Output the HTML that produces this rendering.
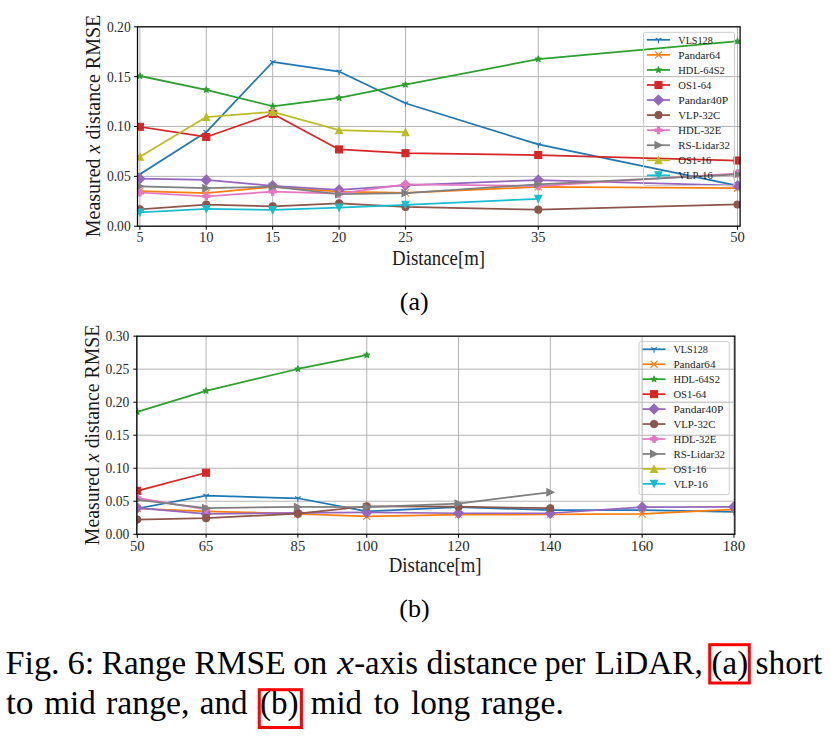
<!DOCTYPE html>
<html><head><meta charset="utf-8"><title>Fig. 6</title>
<style>html,body{margin:0;padding:0;background:#fff;overflow:hidden}svg{display:block}</style>
</head><body>
<svg width="831" height="739" viewBox="0 0 831 739" font-family="'Liberation Serif', 'DejaVu Serif', serif" fill="#000">
<rect width="831" height="739" fill="#fff"/>
<clipPath id="ca"><rect x="137.5" y="26.8" width="602.6" height="199.4"/></clipPath>
<path d="M139.88,26.8V226.2M206.28,26.8V226.2M272.68,26.8V226.2M339.08,26.8V226.2M405.48,26.8V226.2M538.28,26.8V226.2M737.49,26.8V226.2M137.5,226.2H740.1M137.5,176.35H740.1M137.5,126.5H740.1M137.5,76.65H740.1M137.5,26.8H740.1" stroke="#b0b0b0" stroke-width="0.95" fill="none" clip-path="url(#ca)"/>
<g clip-path="url(#ca)">
<polyline points="139.88,174.36 206.28,132.08 272.68,61.99 339.08,71.57 405.48,103.27 538.28,144.45 737.49,185.62" fill="none" stroke="#1f77b4" stroke-width="1.75" stroke-linejoin="round" stroke-linecap="square"/>
<path d="M139.88,174.36l0,3.5M139.88,174.36l2.8,-1.75M139.88,174.36l-2.8,-1.75" stroke="#1f77b4" stroke-width="1.1" fill="none"/>
<path d="M206.28,132.08l0,3.5M206.28,132.08l2.8,-1.75M206.28,132.08l-2.8,-1.75" stroke="#1f77b4" stroke-width="1.1" fill="none"/>
<path d="M272.68,61.99l0,3.5M272.68,61.99l2.8,-1.75M272.68,61.99l-2.8,-1.75" stroke="#1f77b4" stroke-width="1.1" fill="none"/>
<path d="M339.08,71.57l0,3.5M339.08,71.57l2.8,-1.75M339.08,71.57l-2.8,-1.75" stroke="#1f77b4" stroke-width="1.1" fill="none"/>
<path d="M405.48,103.27l0,3.5M405.48,103.27l2.8,-1.75M405.48,103.27l-2.8,-1.75" stroke="#1f77b4" stroke-width="1.1" fill="none"/>
<path d="M538.28,144.45l0,3.5M538.28,144.45l2.8,-1.75M538.28,144.45l-2.8,-1.75" stroke="#1f77b4" stroke-width="1.1" fill="none"/>
<path d="M737.49,185.62l0,3.5M737.49,185.62l2.8,-1.75M737.49,185.62l-2.8,-1.75" stroke="#1f77b4" stroke-width="1.1" fill="none"/>
<polyline points="139.88,191.11 206.28,193.2 272.68,186.82 339.08,191.7 405.48,192.9 538.28,186.92 737.49,188.01" fill="none" stroke="#ff7f0e" stroke-width="1.75" stroke-linejoin="round" stroke-linecap="square"/>
<path d="M136.38,187.61L143.38,194.61M136.38,194.61L143.38,187.61" stroke="#ff7f0e" stroke-width="1.1" fill="none"/>
<path d="M202.78,189.7L209.78,196.7M202.78,196.7L209.78,189.7" stroke="#ff7f0e" stroke-width="1.1" fill="none"/>
<path d="M269.18,183.32L276.18,190.32M269.18,190.32L276.18,183.32" stroke="#ff7f0e" stroke-width="1.1" fill="none"/>
<path d="M335.58,188.2L342.58,195.2M335.58,195.2L342.58,188.2" stroke="#ff7f0e" stroke-width="1.1" fill="none"/>
<path d="M401.98,189.4L408.98,196.4M401.98,196.4L408.98,189.4" stroke="#ff7f0e" stroke-width="1.1" fill="none"/>
<path d="M534.78,183.42L541.78,190.42M534.78,190.42L541.78,183.42" stroke="#ff7f0e" stroke-width="1.1" fill="none"/>
<path d="M733.99,184.51L740.99,191.51M733.99,191.51L740.99,184.51" stroke="#ff7f0e" stroke-width="1.1" fill="none"/>
<polyline points="139.88,75.95 206.28,89.81 272.68,106.26 339.08,97.89 405.48,84.63 538.28,59.1 737.49,41.26" fill="none" stroke="#2ca02c" stroke-width="1.75" stroke-linejoin="round" stroke-linecap="square"/>
<polygon points="139.88,72.8 140.59,74.98 142.87,74.98 141.02,76.32 141.73,78.5 139.88,77.16 138.03,78.5 138.73,76.32 136.88,74.98 139.17,74.98" fill="#2ca02c" stroke="#2ca02c" stroke-width="1.1" stroke-linejoin="round"/>
<polygon points="206.28,86.66 206.99,88.84 209.28,88.84 207.42,90.18 208.13,92.36 206.28,91.01 204.43,92.36 205.14,90.18 203.28,88.84 205.57,88.84" fill="#2ca02c" stroke="#2ca02c" stroke-width="1.1" stroke-linejoin="round"/>
<polygon points="272.68,103.11 273.39,105.29 275.68,105.29 273.83,106.63 274.53,108.81 272.68,107.46 270.83,108.81 271.54,106.63 269.69,105.29 271.97,105.29" fill="#2ca02c" stroke="#2ca02c" stroke-width="1.1" stroke-linejoin="round"/>
<polygon points="339.08,94.74 339.79,96.91 342.08,96.91 340.23,98.26 340.93,100.43 339.08,99.09 337.23,100.43 337.94,98.26 336.09,96.91 338.37,96.91" fill="#2ca02c" stroke="#2ca02c" stroke-width="1.1" stroke-linejoin="round"/>
<polygon points="405.48,81.48 406.19,83.65 408.48,83.65 406.63,85 407.33,87.17 405.48,85.83 403.63,87.17 404.34,85 402.49,83.65 404.78,83.65" fill="#2ca02c" stroke="#2ca02c" stroke-width="1.1" stroke-linejoin="round"/>
<polygon points="538.28,55.95 538.99,58.13 541.28,58.13 539.43,59.47 540.14,61.65 538.28,60.31 536.43,61.65 537.14,59.47 535.29,58.13 537.58,58.13" fill="#2ca02c" stroke="#2ca02c" stroke-width="1.1" stroke-linejoin="round"/>
<polygon points="737.49,38.11 738.2,40.28 740.48,40.28 738.63,41.63 739.34,43.8 737.49,42.46 735.64,43.8 736.34,41.63 734.49,40.28 736.78,40.28" fill="#2ca02c" stroke="#2ca02c" stroke-width="1.1" stroke-linejoin="round"/>
<polyline points="139.88,126.8 206.28,136.97 272.68,113.84 339.08,149.43 405.48,153.22 538.28,155.01 737.49,160.5" fill="none" stroke="#d62728" stroke-width="1.75" stroke-linejoin="round" stroke-linecap="square"/>
<rect x="136.38" y="123.3" width="7" height="7" fill="#d62728" stroke="#d62728" stroke-width="1.1"/>
<rect x="202.78" y="133.47" width="7" height="7" fill="#d62728" stroke="#d62728" stroke-width="1.1"/>
<rect x="269.18" y="110.34" width="7" height="7" fill="#d62728" stroke="#d62728" stroke-width="1.1"/>
<rect x="335.58" y="145.93" width="7" height="7" fill="#d62728" stroke="#d62728" stroke-width="1.1"/>
<rect x="401.98" y="149.72" width="7" height="7" fill="#d62728" stroke="#d62728" stroke-width="1.1"/>
<rect x="534.78" y="151.51" width="7" height="7" fill="#d62728" stroke="#d62728" stroke-width="1.1"/>
<rect x="733.99" y="157" width="7" height="7" fill="#d62728" stroke="#d62728" stroke-width="1.1"/>
<polyline points="139.88,178.64 206.28,179.94 272.68,185.82 339.08,189.91 405.48,185.32 538.28,180.04 737.49,185.62" fill="none" stroke="#9467bd" stroke-width="1.75" stroke-linejoin="round" stroke-linecap="square"/>
<polygon points="139.88,173.69 144.83,178.64 139.88,183.59 134.93,178.64" fill="#9467bd" stroke="#9467bd" stroke-width="1.1"/>
<polygon points="206.28,174.99 211.23,179.94 206.28,184.89 201.33,179.94" fill="#9467bd" stroke="#9467bd" stroke-width="1.1"/>
<polygon points="272.68,180.87 277.63,185.82 272.68,190.77 267.73,185.82" fill="#9467bd" stroke="#9467bd" stroke-width="1.1"/>
<polygon points="339.08,184.96 344.03,189.91 339.08,194.86 334.13,189.91" fill="#9467bd" stroke="#9467bd" stroke-width="1.1"/>
<polygon points="405.48,180.37 410.43,185.32 405.48,190.27 400.53,185.32" fill="#9467bd" stroke="#9467bd" stroke-width="1.1"/>
<polygon points="538.28,175.09 543.23,180.04 538.28,184.99 533.34,180.04" fill="#9467bd" stroke="#9467bd" stroke-width="1.1"/>
<polygon points="737.49,180.67 742.44,185.62 737.49,190.57 732.54,185.62" fill="#9467bd" stroke="#9467bd" stroke-width="1.1"/>
<polyline points="139.88,209.25 206.28,204.57 272.68,206.36 339.08,203.27 405.48,206.96 538.28,209.65 737.49,204.47" fill="none" stroke="#8c564b" stroke-width="1.75" stroke-linejoin="round" stroke-linecap="square"/>
<circle cx="139.88" cy="209.25" r="3.5" fill="#8c564b" stroke="#8c564b" stroke-width="1.1"/>
<circle cx="206.28" cy="204.57" r="3.5" fill="#8c564b" stroke="#8c564b" stroke-width="1.1"/>
<circle cx="272.68" cy="206.36" r="3.5" fill="#8c564b" stroke="#8c564b" stroke-width="1.1"/>
<circle cx="339.08" cy="203.27" r="3.5" fill="#8c564b" stroke="#8c564b" stroke-width="1.1"/>
<circle cx="405.48" cy="206.96" r="3.5" fill="#8c564b" stroke="#8c564b" stroke-width="1.1"/>
<circle cx="538.28" cy="209.65" r="3.5" fill="#8c564b" stroke="#8c564b" stroke-width="1.1"/>
<circle cx="737.49" cy="204.47" r="3.5" fill="#8c564b" stroke="#8c564b" stroke-width="1.1"/>
<polyline points="139.88,192.5 206.28,196.29 272.68,191.7 339.08,193.6 405.48,184.33 538.28,186.12 737.49,173.36" fill="none" stroke="#e377c2" stroke-width="1.75" stroke-linejoin="round" stroke-linecap="square"/>
<polygon points="138.71,189 141.05,189 141.05,191.33 143.38,191.33 143.38,193.67 141.05,193.67 141.05,196 138.71,196 138.71,193.67 136.38,193.67 136.38,191.33 138.71,191.33" fill="#e377c2" stroke="#e377c2" stroke-width="1.1"/>
<polygon points="205.11,192.79 207.45,192.79 207.45,195.12 209.78,195.12 209.78,197.46 207.45,197.46 207.45,199.79 205.11,199.79 205.11,197.46 202.78,197.46 202.78,195.12 205.11,195.12" fill="#e377c2" stroke="#e377c2" stroke-width="1.1"/>
<polygon points="271.51,188.2 273.85,188.2 273.85,190.54 276.18,190.54 276.18,192.87 273.85,192.87 273.85,195.2 271.51,195.2 271.51,192.87 269.18,192.87 269.18,190.54 271.51,190.54" fill="#e377c2" stroke="#e377c2" stroke-width="1.1"/>
<polygon points="337.92,190.1 340.25,190.1 340.25,192.43 342.58,192.43 342.58,194.76 340.25,194.76 340.25,197.1 337.92,197.1 337.92,194.76 335.58,194.76 335.58,192.43 337.92,192.43" fill="#e377c2" stroke="#e377c2" stroke-width="1.1"/>
<polygon points="404.32,180.83 406.65,180.83 406.65,183.16 408.98,183.16 408.98,185.49 406.65,185.49 406.65,187.83 404.32,187.83 404.32,185.49 401.98,185.49 401.98,183.16 404.32,183.16" fill="#e377c2" stroke="#e377c2" stroke-width="1.1"/>
<polygon points="537.12,182.62 539.45,182.62 539.45,184.95 541.78,184.95 541.78,187.29 539.45,187.29 539.45,189.62 537.12,189.62 537.12,187.29 534.78,187.29 534.78,184.95 537.12,184.95" fill="#e377c2" stroke="#e377c2" stroke-width="1.1"/>
<polygon points="736.32,169.86 738.65,169.86 738.65,172.19 740.99,172.19 740.99,174.53 738.65,174.53 738.65,176.86 736.32,176.86 736.32,174.53 733.99,174.53 733.99,172.19 736.32,172.19" fill="#e377c2" stroke="#e377c2" stroke-width="1.1"/>
<polyline points="139.88,186.32 206.28,188.21 272.68,186.62 339.08,194.2 405.48,193.1 538.28,184.33 737.49,174.36" fill="none" stroke="#7f7f7f" stroke-width="1.75" stroke-linejoin="round" stroke-linecap="square"/>
<polygon points="143.38,186.32 136.38,182.82 136.38,189.82" fill="#7f7f7f" stroke="#7f7f7f" stroke-width="1.1"/>
<polygon points="209.78,188.21 202.78,184.71 202.78,191.71" fill="#7f7f7f" stroke="#7f7f7f" stroke-width="1.1"/>
<polygon points="276.18,186.62 269.18,183.12 269.18,190.12" fill="#7f7f7f" stroke="#7f7f7f" stroke-width="1.1"/>
<polygon points="342.58,194.2 335.58,190.7 335.58,197.7" fill="#7f7f7f" stroke="#7f7f7f" stroke-width="1.1"/>
<polygon points="408.98,193.1 401.98,189.6 401.98,196.6" fill="#7f7f7f" stroke="#7f7f7f" stroke-width="1.1"/>
<polygon points="541.78,184.33 534.78,180.83 534.78,187.83" fill="#7f7f7f" stroke="#7f7f7f" stroke-width="1.1"/>
<polygon points="740.99,174.36 733.99,170.86 733.99,177.86" fill="#7f7f7f" stroke="#7f7f7f" stroke-width="1.1"/>
<polyline points="139.88,156.81 206.28,117.03 272.68,111.84 339.08,130.19 405.48,132.08" fill="none" stroke="#bcbd22" stroke-width="1.75" stroke-linejoin="round" stroke-linecap="square"/>
<polygon points="139.88,153.31 136.38,160.31 143.38,160.31" fill="#bcbd22" stroke="#bcbd22" stroke-width="1.1"/>
<polygon points="206.28,113.53 202.78,120.53 209.78,120.53" fill="#bcbd22" stroke="#bcbd22" stroke-width="1.1"/>
<polygon points="272.68,108.34 269.18,115.34 276.18,115.34" fill="#bcbd22" stroke="#bcbd22" stroke-width="1.1"/>
<polygon points="339.08,126.69 335.58,133.69 342.58,133.69" fill="#bcbd22" stroke="#bcbd22" stroke-width="1.1"/>
<polygon points="405.48,128.58 401.98,135.58 408.98,135.58" fill="#bcbd22" stroke="#bcbd22" stroke-width="1.1"/>
<polyline points="139.88,212.44 206.28,208.95 272.68,209.95 339.08,207.56 405.48,204.76 538.28,198.88" fill="none" stroke="#17becf" stroke-width="1.75" stroke-linejoin="round" stroke-linecap="square"/>
<polygon points="139.88,215.94 136.38,208.94 143.38,208.94" fill="#17becf" stroke="#17becf" stroke-width="1.1"/>
<polygon points="206.28,212.45 202.78,205.45 209.78,205.45" fill="#17becf" stroke="#17becf" stroke-width="1.1"/>
<polygon points="272.68,213.45 269.18,206.45 276.18,206.45" fill="#17becf" stroke="#17becf" stroke-width="1.1"/>
<polygon points="339.08,211.06 335.58,204.06 342.58,204.06" fill="#17becf" stroke="#17becf" stroke-width="1.1"/>
<polygon points="405.48,208.26 401.98,201.26 408.98,201.26" fill="#17becf" stroke="#17becf" stroke-width="1.1"/>
<polygon points="538.28,202.38 534.78,195.38 541.78,195.38" fill="#17becf" stroke="#17becf" stroke-width="1.1"/>
</g>
<rect x="643.5" y="32.3" width="91" height="153.2" rx="2" fill="none" stroke="#cccccc" stroke-width="1"/>
<path d="M646.9,39.8H670.1" stroke="#1f77b4" stroke-width="1.75"/>
<path d="M658.5,39.8l0,3.5M658.5,39.8l2.8,-1.75M658.5,39.8l-2.8,-1.75" stroke="#1f77b4" stroke-width="1.1" fill="none"/>
<text x="678.3" y="43.6" font-size="11" fill="#222" textLength="34.5" lengthAdjust="spacingAndGlyphs">VLS128</text>
<path d="M646.9,54.86H670.1" stroke="#ff7f0e" stroke-width="1.75"/>
<path d="M655,51.36L662,58.36M655,58.36L662,51.36" stroke="#ff7f0e" stroke-width="1.1" fill="none"/>
<text x="678.3" y="58.66" font-size="11" fill="#222" textLength="42.1" lengthAdjust="spacingAndGlyphs">Pandar64</text>
<path d="M646.9,69.92H670.1" stroke="#2ca02c" stroke-width="1.75"/>
<polygon points="658.5,66.77 659.21,68.95 661.5,68.95 659.64,70.29 660.35,72.47 658.5,71.12 656.65,72.47 657.36,70.29 655.5,68.95 657.79,68.95" fill="#2ca02c" stroke="#2ca02c" stroke-width="1.1" stroke-linejoin="round"/>
<text x="678.3" y="73.72" font-size="11" fill="#222" textLength="46.5" lengthAdjust="spacingAndGlyphs">HDL-64S2</text>
<path d="M646.9,84.98H670.1" stroke="#d62728" stroke-width="1.75"/>
<rect x="655" y="81.48" width="7" height="7" fill="#d62728" stroke="#d62728" stroke-width="1.1"/>
<text x="678.3" y="88.78" font-size="11" fill="#222" textLength="33" lengthAdjust="spacingAndGlyphs">OS1-64</text>
<path d="M646.9,100.04H670.1" stroke="#9467bd" stroke-width="1.75"/>
<polygon points="658.5,95.09 663.45,100.04 658.5,104.99 653.55,100.04" fill="#9467bd" stroke="#9467bd" stroke-width="1.1"/>
<text x="678.3" y="103.84" font-size="11" fill="#222" textLength="50" lengthAdjust="spacingAndGlyphs">Pandar40P</text>
<path d="M646.9,115.1H670.1" stroke="#8c564b" stroke-width="1.75"/>
<circle cx="658.5" cy="115.1" r="3.5" fill="#8c564b" stroke="#8c564b" stroke-width="1.1"/>
<text x="678.3" y="118.9" font-size="11" fill="#222" textLength="42" lengthAdjust="spacingAndGlyphs">VLP-32C</text>
<path d="M646.9,130.16H670.1" stroke="#e377c2" stroke-width="1.75"/>
<polygon points="657.33,126.66 659.67,126.66 659.67,128.99 662,128.99 662,131.33 659.67,131.33 659.67,133.66 657.33,133.66 657.33,131.33 655,131.33 655,128.99 657.33,128.99" fill="#e377c2" stroke="#e377c2" stroke-width="1.1"/>
<text x="678.3" y="133.96" font-size="11" fill="#222" textLength="43" lengthAdjust="spacingAndGlyphs">HDL-32E</text>
<path d="M646.9,145.22H670.1" stroke="#7f7f7f" stroke-width="1.75"/>
<polygon points="662,145.22 655,141.72 655,148.72" fill="#7f7f7f" stroke="#7f7f7f" stroke-width="1.1"/>
<text x="678.3" y="149.02" font-size="11" fill="#222" textLength="51.7" lengthAdjust="spacingAndGlyphs">RS-Lidar32</text>
<path d="M646.9,160.28H670.1" stroke="#bcbd22" stroke-width="1.75"/>
<polygon points="658.5,156.78 655,163.78 662,163.78" fill="#bcbd22" stroke="#bcbd22" stroke-width="1.1"/>
<text x="678.3" y="164.08" font-size="11" fill="#222" textLength="33" lengthAdjust="spacingAndGlyphs">OS1-16</text>
<path d="M646.9,175.34H670.1" stroke="#17becf" stroke-width="1.75"/>
<polygon points="658.5,178.84 655,171.84 662,171.84" fill="#17becf" stroke="#17becf" stroke-width="1.1"/>
<text x="678.3" y="179.14" font-size="11" fill="#222" textLength="34.5" lengthAdjust="spacingAndGlyphs">VLP-16</text>
<rect x="137.5" y="26.8" width="602.6" height="199.4" fill="none" stroke="#000" stroke-width="1.25" stroke-linejoin="miter"/>
<path d="M139.88,226.2v3.5M206.28,226.2v3.5M272.68,226.2v3.5M339.08,226.2v3.5M405.48,226.2v3.5M538.28,226.2v3.5M737.49,226.2v3.5M137.5,226.2h-3.5M137.5,176.35h-3.5M137.5,126.5h-3.5M137.5,76.65h-3.5M137.5,26.8h-3.5" stroke="#000" stroke-width="1"/>
<text x="139.88" y="242" font-size="14" text-anchor="middle" fill="#2a2a2a">5</text>
<text x="206.28" y="242" font-size="14" text-anchor="middle" fill="#2a2a2a" textLength="14.6" lengthAdjust="spacingAndGlyphs">10</text>
<text x="272.68" y="242" font-size="14" text-anchor="middle" fill="#2a2a2a" textLength="14.6" lengthAdjust="spacingAndGlyphs">15</text>
<text x="339.08" y="242" font-size="14" text-anchor="middle" fill="#2a2a2a" textLength="14.6" lengthAdjust="spacingAndGlyphs">20</text>
<text x="405.48" y="242" font-size="14" text-anchor="middle" fill="#2a2a2a" textLength="14.6" lengthAdjust="spacingAndGlyphs">25</text>
<text x="538.28" y="242" font-size="14" text-anchor="middle" fill="#2a2a2a" textLength="14.6" lengthAdjust="spacingAndGlyphs">35</text>
<text x="737.49" y="242" font-size="14" text-anchor="middle" fill="#2a2a2a" textLength="14.6" lengthAdjust="spacingAndGlyphs">50</text>
<text x="130.7" y="231.1" font-size="14" text-anchor="end" fill="#2a2a2a" textLength="23.8" lengthAdjust="spacingAndGlyphs">0.00</text>
<text x="130.7" y="181.25" font-size="14" text-anchor="end" fill="#2a2a2a" textLength="23.8" lengthAdjust="spacingAndGlyphs">0.05</text>
<text x="130.7" y="131.4" font-size="14" text-anchor="end" fill="#2a2a2a" textLength="23.8" lengthAdjust="spacingAndGlyphs">0.10</text>
<text x="130.7" y="81.55" font-size="14" text-anchor="end" fill="#2a2a2a" textLength="23.8" lengthAdjust="spacingAndGlyphs">0.15</text>
<text x="130.7" y="31.7" font-size="14" text-anchor="end" fill="#2a2a2a" textLength="23.8" lengthAdjust="spacingAndGlyphs">0.20</text>
<text x="438.6" y="265" font-size="20" text-anchor="middle" fill="#1a1a1a" textLength="93" lengthAdjust="spacingAndGlyphs">Distance[m]</text>
<text transform="translate(100,126) rotate(-90)" font-size="20" text-anchor="middle" fill="#1a1a1a" textLength="222.5" lengthAdjust="spacingAndGlyphs">Measured <tspan font-style="italic">x</tspan> distance RMSE</text>
<clipPath id="cb"><rect x="136.8" y="336.15" width="598.05" height="198.1"/></clipPath>
<path d="M137.24,336.15V534.25M206.09,336.15V534.25M297.89,336.15V534.25M366.74,336.15V534.25M458.54,336.15V534.25M550.34,336.15V534.25M642.14,336.15V534.25M733.94,336.15V534.25M136.8,534.25H734.85M136.8,501.24H734.85M136.8,468.22H734.85M136.8,435.21H734.85M136.8,402.19H734.85M136.8,369.18H734.85M136.8,336.16H734.85" stroke="#b0b0b0" stroke-width="0.95" fill="none" clip-path="url(#cb)"/>
<g clip-path="url(#cb)">
<polyline points="137.24,508.5 206.09,495.69 297.89,498.26 366.74,511.34 458.54,507.18 550.34,510.02 642.14,510.02 733.94,511.93" fill="none" stroke="#1f77b4" stroke-width="1.75" stroke-linejoin="round" stroke-linecap="square"/>
<path d="M137.24,508.5l0,3.5M137.24,508.5l2.8,-1.75M137.24,508.5l-2.8,-1.75" stroke="#1f77b4" stroke-width="1.1" fill="none"/>
<path d="M206.09,495.69l0,3.5M206.09,495.69l2.8,-1.75M206.09,495.69l-2.8,-1.75" stroke="#1f77b4" stroke-width="1.1" fill="none"/>
<path d="M297.89,498.26l0,3.5M297.89,498.26l2.8,-1.75M297.89,498.26l-2.8,-1.75" stroke="#1f77b4" stroke-width="1.1" fill="none"/>
<path d="M366.74,511.34l0,3.5M366.74,511.34l2.8,-1.75M366.74,511.34l-2.8,-1.75" stroke="#1f77b4" stroke-width="1.1" fill="none"/>
<path d="M458.54,507.18l0,3.5M458.54,507.18l2.8,-1.75M458.54,507.18l-2.8,-1.75" stroke="#1f77b4" stroke-width="1.1" fill="none"/>
<path d="M550.34,510.02l0,3.5M550.34,510.02l2.8,-1.75M550.34,510.02l-2.8,-1.75" stroke="#1f77b4" stroke-width="1.1" fill="none"/>
<path d="M642.14,510.02l0,3.5M642.14,510.02l2.8,-1.75M642.14,510.02l-2.8,-1.75" stroke="#1f77b4" stroke-width="1.1" fill="none"/>
<path d="M733.94,511.93l0,3.5M733.94,511.93l2.8,-1.75M733.94,511.93l-2.8,-1.75" stroke="#1f77b4" stroke-width="1.1" fill="none"/>
<polyline points="137.24,508.5 206.09,511.47 297.89,513.78 366.74,516.36 458.54,514.71 550.34,514.37 642.14,513.78 733.94,509.42" fill="none" stroke="#ff7f0e" stroke-width="1.75" stroke-linejoin="round" stroke-linecap="square"/>
<path d="M133.74,505L140.74,512M133.74,512L140.74,505" stroke="#ff7f0e" stroke-width="1.1" fill="none"/>
<path d="M202.59,507.97L209.59,514.97M202.59,514.97L209.59,507.97" stroke="#ff7f0e" stroke-width="1.1" fill="none"/>
<path d="M294.39,510.28L301.39,517.28M294.39,517.28L301.39,510.28" stroke="#ff7f0e" stroke-width="1.1" fill="none"/>
<path d="M363.24,512.86L370.24,519.86M363.24,519.86L370.24,512.86" stroke="#ff7f0e" stroke-width="1.1" fill="none"/>
<path d="M455.04,511.21L462.04,518.21M455.04,518.21L462.04,511.21" stroke="#ff7f0e" stroke-width="1.1" fill="none"/>
<path d="M546.84,510.87L553.84,517.87M546.84,517.87L553.84,510.87" stroke="#ff7f0e" stroke-width="1.1" fill="none"/>
<path d="M638.64,510.28L645.64,517.28M638.64,517.28L645.64,510.28" stroke="#ff7f0e" stroke-width="1.1" fill="none"/>
<path d="M730.44,505.92L737.44,512.92M730.44,512.92L737.44,505.92" stroke="#ff7f0e" stroke-width="1.1" fill="none"/>
<polyline points="137.24,411.96 206.09,390.83 297.89,368.98 366.74,355.11" fill="none" stroke="#2ca02c" stroke-width="1.75" stroke-linejoin="round" stroke-linecap="square"/>
<polygon points="137.24,408.81 137.95,410.99 140.24,410.99 138.39,412.33 139.09,414.51 137.24,413.17 135.39,414.51 136.1,412.33 134.25,410.99 136.54,410.99" fill="#2ca02c" stroke="#2ca02c" stroke-width="1.1" stroke-linejoin="round"/>
<polygon points="206.09,387.68 206.8,389.86 209.09,389.86 207.24,391.2 207.94,393.38 206.09,392.04 204.24,393.38 204.95,391.2 203.1,389.86 205.39,389.86" fill="#2ca02c" stroke="#2ca02c" stroke-width="1.1" stroke-linejoin="round"/>
<polygon points="297.89,365.83 298.6,368 300.89,368 299.04,369.35 299.74,371.53 297.89,370.18 296.04,371.53 296.75,369.35 294.9,368 297.18,368" fill="#2ca02c" stroke="#2ca02c" stroke-width="1.1" stroke-linejoin="round"/>
<polygon points="366.74,351.96 367.45,354.14 369.74,354.14 367.89,355.48 368.59,357.66 366.74,356.31 364.89,357.66 365.6,355.48 363.75,354.14 366.03,354.14" fill="#2ca02c" stroke="#2ca02c" stroke-width="1.1" stroke-linejoin="round"/>
<polyline points="137.24,490.87 206.09,472.71" fill="none" stroke="#d62728" stroke-width="1.75" stroke-linejoin="round" stroke-linecap="square"/>
<rect x="133.74" y="487.37" width="7" height="7" fill="#d62728" stroke="#d62728" stroke-width="1.1"/>
<rect x="202.59" y="469.21" width="7" height="7" fill="#d62728" stroke="#d62728" stroke-width="1.1"/>
<polyline points="137.24,507.9 206.09,513.78 297.89,512.99 366.74,512.46 458.54,513.25 550.34,513.25 642.14,507.18 733.94,506.85" fill="none" stroke="#9467bd" stroke-width="1.75" stroke-linejoin="round" stroke-linecap="square"/>
<polygon points="137.24,502.95 142.19,507.9 137.24,512.85 132.29,507.9" fill="#9467bd" stroke="#9467bd" stroke-width="1.1"/>
<polygon points="206.09,508.83 211.04,513.78 206.09,518.73 201.14,513.78" fill="#9467bd" stroke="#9467bd" stroke-width="1.1"/>
<polygon points="297.89,508.04 302.84,512.99 297.89,517.94 292.94,512.99" fill="#9467bd" stroke="#9467bd" stroke-width="1.1"/>
<polygon points="366.74,507.51 371.69,512.46 366.74,517.41 361.79,512.46" fill="#9467bd" stroke="#9467bd" stroke-width="1.1"/>
<polygon points="458.54,508.3 463.49,513.25 458.54,518.2 453.59,513.25" fill="#9467bd" stroke="#9467bd" stroke-width="1.1"/>
<polygon points="550.34,508.3 555.29,513.25 550.34,518.2 545.39,513.25" fill="#9467bd" stroke="#9467bd" stroke-width="1.1"/>
<polygon points="642.14,502.23 647.09,507.18 642.14,512.13 637.19,507.18" fill="#9467bd" stroke="#9467bd" stroke-width="1.1"/>
<polygon points="733.94,501.9 738.89,506.85 733.94,511.8 728.99,506.85" fill="#9467bd" stroke="#9467bd" stroke-width="1.1"/>
<polyline points="137.24,519.59 206.09,518.14 297.89,513.65 366.74,506.25 458.54,506.72 550.34,508.23" fill="none" stroke="#8c564b" stroke-width="1.75" stroke-linejoin="round" stroke-linecap="square"/>
<circle cx="137.24" cy="519.59" r="3.5" fill="#8c564b" stroke="#8c564b" stroke-width="1.1"/>
<circle cx="206.09" cy="518.14" r="3.5" fill="#8c564b" stroke="#8c564b" stroke-width="1.1"/>
<circle cx="297.89" cy="513.65" r="3.5" fill="#8c564b" stroke="#8c564b" stroke-width="1.1"/>
<circle cx="366.74" cy="506.25" r="3.5" fill="#8c564b" stroke="#8c564b" stroke-width="1.1"/>
<circle cx="458.54" cy="506.72" r="3.5" fill="#8c564b" stroke="#8c564b" stroke-width="1.1"/>
<circle cx="550.34" cy="508.23" r="3.5" fill="#8c564b" stroke="#8c564b" stroke-width="1.1"/>
<polyline points="137.24,497.93 206.09,509.42" fill="none" stroke="#e377c2" stroke-width="1.75" stroke-linejoin="round" stroke-linecap="square"/>
<polygon points="136.08,494.43 138.41,494.43 138.41,496.77 140.74,496.77 140.74,499.1 138.41,499.1 138.41,501.43 136.08,501.43 136.08,499.1 133.74,499.1 133.74,496.77 136.08,496.77" fill="#e377c2" stroke="#e377c2" stroke-width="1.1"/>
<polygon points="204.93,505.92 207.26,505.92 207.26,508.26 209.59,508.26 209.59,510.59 207.26,510.59 207.26,512.92 204.93,512.92 204.93,510.59 202.59,510.59 202.59,508.26 204.93,508.26" fill="#e377c2" stroke="#e377c2" stroke-width="1.1"/>
<polyline points="137.24,499.78 206.09,508.04 297.89,506.91 366.74,507.18 458.54,503.55 550.34,492.25" fill="none" stroke="#7f7f7f" stroke-width="1.75" stroke-linejoin="round" stroke-linecap="square"/>
<polygon points="140.74,499.78 133.74,496.28 133.74,503.28" fill="#7f7f7f" stroke="#7f7f7f" stroke-width="1.1"/>
<polygon points="209.59,508.04 202.59,504.54 202.59,511.54" fill="#7f7f7f" stroke="#7f7f7f" stroke-width="1.1"/>
<polygon points="301.39,506.91 294.39,503.41 294.39,510.41" fill="#7f7f7f" stroke="#7f7f7f" stroke-width="1.1"/>
<polygon points="370.24,507.18 363.24,503.68 363.24,510.68" fill="#7f7f7f" stroke="#7f7f7f" stroke-width="1.1"/>
<polygon points="462.04,503.55 455.04,500.05 455.04,507.05" fill="#7f7f7f" stroke="#7f7f7f" stroke-width="1.1"/>
<polygon points="553.84,492.25 546.84,488.75 546.84,495.75" fill="#7f7f7f" stroke="#7f7f7f" stroke-width="1.1"/>
</g>
<rect x="639" y="341.6" width="90.3" height="153" rx="2" fill="none" stroke="#cccccc" stroke-width="1"/>
<path d="M642.6,349.3H665.5" stroke="#1f77b4" stroke-width="1.75"/>
<path d="M654.05,349.3l0,3.5M654.05,349.3l2.8,-1.75M654.05,349.3l-2.8,-1.75" stroke="#1f77b4" stroke-width="1.1" fill="none"/>
<text x="673.4" y="353.1" font-size="11" fill="#222" textLength="34.5" lengthAdjust="spacingAndGlyphs">VLS128</text>
<path d="M642.6,364.25H665.5" stroke="#ff7f0e" stroke-width="1.75"/>
<path d="M650.55,360.75L657.55,367.75M650.55,367.75L657.55,360.75" stroke="#ff7f0e" stroke-width="1.1" fill="none"/>
<text x="673.4" y="368.05" font-size="11" fill="#222" textLength="42.1" lengthAdjust="spacingAndGlyphs">Pandar64</text>
<path d="M642.6,379.2H665.5" stroke="#2ca02c" stroke-width="1.75"/>
<polygon points="654.05,376.05 654.76,378.23 657.05,378.23 655.19,379.57 655.9,381.75 654.05,380.4 652.2,381.75 652.91,379.57 651.05,378.23 653.34,378.23" fill="#2ca02c" stroke="#2ca02c" stroke-width="1.1" stroke-linejoin="round"/>
<text x="673.4" y="383" font-size="11" fill="#222" textLength="46.5" lengthAdjust="spacingAndGlyphs">HDL-64S2</text>
<path d="M642.6,394.15H665.5" stroke="#d62728" stroke-width="1.75"/>
<rect x="650.55" y="390.65" width="7" height="7" fill="#d62728" stroke="#d62728" stroke-width="1.1"/>
<text x="673.4" y="397.95" font-size="11" fill="#222" textLength="33" lengthAdjust="spacingAndGlyphs">OS1-64</text>
<path d="M642.6,409.1H665.5" stroke="#9467bd" stroke-width="1.75"/>
<polygon points="654.05,404.15 659,409.1 654.05,414.05 649.1,409.1" fill="#9467bd" stroke="#9467bd" stroke-width="1.1"/>
<text x="673.4" y="412.9" font-size="11" fill="#222" textLength="50" lengthAdjust="spacingAndGlyphs">Pandar40P</text>
<path d="M642.6,424.05H665.5" stroke="#8c564b" stroke-width="1.75"/>
<circle cx="654.05" cy="424.05" r="3.5" fill="#8c564b" stroke="#8c564b" stroke-width="1.1"/>
<text x="673.4" y="427.85" font-size="11" fill="#222" textLength="42" lengthAdjust="spacingAndGlyphs">VLP-32C</text>
<path d="M642.6,439H665.5" stroke="#e377c2" stroke-width="1.75"/>
<polygon points="652.88,435.5 655.22,435.5 655.22,437.83 657.55,437.83 657.55,440.17 655.22,440.17 655.22,442.5 652.88,442.5 652.88,440.17 650.55,440.17 650.55,437.83 652.88,437.83" fill="#e377c2" stroke="#e377c2" stroke-width="1.1"/>
<text x="673.4" y="442.8" font-size="11" fill="#222" textLength="43" lengthAdjust="spacingAndGlyphs">HDL-32E</text>
<path d="M642.6,453.95H665.5" stroke="#7f7f7f" stroke-width="1.75"/>
<polygon points="657.55,453.95 650.55,450.45 650.55,457.45" fill="#7f7f7f" stroke="#7f7f7f" stroke-width="1.1"/>
<text x="673.4" y="457.75" font-size="11" fill="#222" textLength="51.7" lengthAdjust="spacingAndGlyphs">RS-Lidar32</text>
<path d="M642.6,468.9H665.5" stroke="#bcbd22" stroke-width="1.75"/>
<polygon points="654.05,465.4 650.55,472.4 657.55,472.4" fill="#bcbd22" stroke="#bcbd22" stroke-width="1.1"/>
<text x="673.4" y="472.7" font-size="11" fill="#222" textLength="33" lengthAdjust="spacingAndGlyphs">OS1-16</text>
<path d="M642.6,483.85H665.5" stroke="#17becf" stroke-width="1.75"/>
<polygon points="654.05,487.35 650.55,480.35 657.55,480.35" fill="#17becf" stroke="#17becf" stroke-width="1.1"/>
<text x="673.4" y="487.65" font-size="11" fill="#222" textLength="34.5" lengthAdjust="spacingAndGlyphs">VLP-16</text>
<rect x="136.8" y="336.15" width="598.05" height="198.1" fill="none" stroke="#000" stroke-width="1.25" stroke-linejoin="miter"/>
<path d="M137.24,534.25v3.5M206.09,534.25v3.5M297.89,534.25v3.5M366.74,534.25v3.5M458.54,534.25v3.5M550.34,534.25v3.5M642.14,534.25v3.5M733.94,534.25v3.5M136.8,534.25h-3.5M136.8,501.24h-3.5M136.8,468.22h-3.5M136.8,435.21h-3.5M136.8,402.19h-3.5M136.8,369.18h-3.5M136.8,336.16h-3.5" stroke="#000" stroke-width="1"/>
<text x="137.24" y="550.5" font-size="14" text-anchor="middle" fill="#2a2a2a" textLength="14.6" lengthAdjust="spacingAndGlyphs">50</text>
<text x="206.09" y="550.5" font-size="14" text-anchor="middle" fill="#2a2a2a" textLength="14.6" lengthAdjust="spacingAndGlyphs">65</text>
<text x="297.89" y="550.5" font-size="14" text-anchor="middle" fill="#2a2a2a" textLength="14.6" lengthAdjust="spacingAndGlyphs">85</text>
<text x="366.74" y="550.5" font-size="14" text-anchor="middle" fill="#2a2a2a" textLength="22.4" lengthAdjust="spacingAndGlyphs">100</text>
<text x="458.54" y="550.5" font-size="14" text-anchor="middle" fill="#2a2a2a" textLength="22.4" lengthAdjust="spacingAndGlyphs">120</text>
<text x="550.34" y="550.5" font-size="14" text-anchor="middle" fill="#2a2a2a" textLength="22.4" lengthAdjust="spacingAndGlyphs">140</text>
<text x="642.14" y="550.5" font-size="14" text-anchor="middle" fill="#2a2a2a" textLength="22.4" lengthAdjust="spacingAndGlyphs">160</text>
<text x="733.94" y="550.5" font-size="14" text-anchor="middle" fill="#2a2a2a" textLength="22.4" lengthAdjust="spacingAndGlyphs">180</text>
<text x="129.3" y="539.35" font-size="14" text-anchor="end" fill="#2a2a2a" textLength="23.8" lengthAdjust="spacingAndGlyphs">0.00</text>
<text x="129.3" y="506.34" font-size="14" text-anchor="end" fill="#2a2a2a" textLength="23.8" lengthAdjust="spacingAndGlyphs">0.05</text>
<text x="129.3" y="473.32" font-size="14" text-anchor="end" fill="#2a2a2a" textLength="23.8" lengthAdjust="spacingAndGlyphs">0.10</text>
<text x="129.3" y="440.31" font-size="14" text-anchor="end" fill="#2a2a2a" textLength="23.8" lengthAdjust="spacingAndGlyphs">0.15</text>
<text x="129.3" y="407.29" font-size="14" text-anchor="end" fill="#2a2a2a" textLength="23.8" lengthAdjust="spacingAndGlyphs">0.20</text>
<text x="129.3" y="374.28" font-size="14" text-anchor="end" fill="#2a2a2a" textLength="23.8" lengthAdjust="spacingAndGlyphs">0.25</text>
<text x="129.3" y="341.26" font-size="14" text-anchor="end" fill="#2a2a2a" textLength="23.8" lengthAdjust="spacingAndGlyphs">0.30</text>
<text x="435.2" y="571.7" font-size="20" text-anchor="middle" fill="#1a1a1a" textLength="92.8" lengthAdjust="spacingAndGlyphs">Distance[m]</text>
<text transform="translate(99.4,434.9) rotate(-90)" font-size="20" text-anchor="middle" fill="#1a1a1a" textLength="220.5" lengthAdjust="spacingAndGlyphs">Measured <tspan font-style="italic">x</tspan> distance RMSE</text>
<text x="414.3" y="310" font-size="26" text-anchor="middle">(a)</text>
<text x="414.5" y="617" font-size="26" text-anchor="middle">(b)</text>
<text x="5.43" y="673.7" font-size="33.3" class="cap" textLength="54.13" lengthAdjust="spacingAndGlyphs">Fig.</text>
<text x="67.40" y="673.7" font-size="33.3" class="cap" textLength="26.90" lengthAdjust="spacingAndGlyphs">6:</text>
<text x="101.87" y="673.7" font-size="33.3" class="cap" textLength="84.35" lengthAdjust="spacingAndGlyphs">Range</text>
<text x="194.46" y="673.7" font-size="33.3" class="cap" textLength="91.23" lengthAdjust="spacingAndGlyphs">RMSE</text>
<text x="293.25" y="673.7" font-size="33.3" class="cap" textLength="34.08" lengthAdjust="spacingAndGlyphs">on</text>
<text x="337.15" y="673.7" font-size="33.3" class="cap" font-style="italic" textLength="16.75" lengthAdjust="spacingAndGlyphs">x</text>
<text x="354.20" y="673.7" font-size="33.3" class="cap" textLength="63.75" lengthAdjust="spacingAndGlyphs">-axis</text>
<text x="426.59" y="673.7" font-size="33.3" class="cap" textLength="110.91" lengthAdjust="spacingAndGlyphs">distance</text>
<text x="544.83" y="673.7" font-size="33.3" class="cap" textLength="40.51" lengthAdjust="spacingAndGlyphs">per</text>
<text x="594.73" y="673.7" font-size="33.3" class="cap" textLength="107.99" lengthAdjust="spacingAndGlyphs">LiDAR,</text>
<text x="711.60" y="673.7" font-size="33.3" class="cap" textLength="36.50" lengthAdjust="spacingAndGlyphs">(a)</text>
<text x="755.60" y="673.7" font-size="33.3" class="cap" textLength="66.80" lengthAdjust="spacingAndGlyphs">short</text>
<text x="5.96" y="713.7" font-size="33.3" class="cap" textLength="27.61" lengthAdjust="spacingAndGlyphs">to</text>
<text x="44.20" y="713.7" font-size="33.3" class="cap" textLength="51.54" lengthAdjust="spacingAndGlyphs">mid</text>
<text x="106.12" y="713.7" font-size="33.3" class="cap" textLength="83.37" lengthAdjust="spacingAndGlyphs">range,</text>
<text x="199.85" y="713.7" font-size="33.3" class="cap" textLength="47.80" lengthAdjust="spacingAndGlyphs">and</text>
<text x="259.95" y="713.7" font-size="33.3" class="cap" textLength="38.69" lengthAdjust="spacingAndGlyphs">(b)</text>
<text x="310.86" y="713.7" font-size="33.3" class="cap" textLength="51.11" lengthAdjust="spacingAndGlyphs">mid</text>
<text x="373.82" y="713.7" font-size="33.3" class="cap" textLength="25.58" lengthAdjust="spacingAndGlyphs">to</text>
<text x="411.05" y="713.7" font-size="33.3" class="cap" textLength="59.21" lengthAdjust="spacingAndGlyphs">long</text>
<text x="480.95" y="713.7" font-size="33.3" class="cap" textLength="82.84" lengthAdjust="spacingAndGlyphs">range.</text>
<rect x="709.7" y="644.7" width="39.6" height="38.3" fill="none" stroke="#ff0000" stroke-width="3"/>
<rect x="259.25" y="689.7" width="42.15" height="37.8" fill="none" stroke="#ff0000" stroke-width="3"/>
</svg>
</body></html>
